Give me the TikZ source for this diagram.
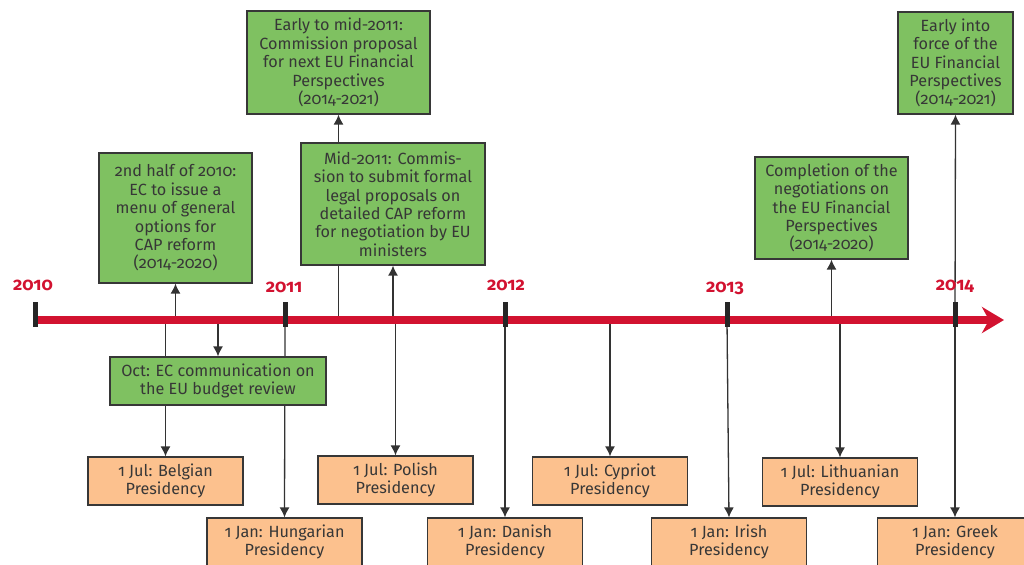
\documentclass[tikz,border=0pt]{standalone}
\usepackage{fontspec}
\setmainfont{Fira Sans}[Numbers=OldStyle]
\usetikzlibrary{arrows.meta, backgrounds}

\definecolor{boxgreen}{RGB}{127,193,97}
\definecolor{boxorange}{RGB}{252,193,142}
\definecolor{linered}{RGB}{210,18,48}
\definecolor{textgray}{RGB}{55,55,55}

\begin{document}
\begin{tikzpicture}[x=0.5pt, y=-0.5pt,
  every node/.style={align=center, text=textgray, inner sep=0pt,
    font=\fontsize{8.1}{9.2}\selectfont},
  event/.style={draw=textgray, fill=boxgreen, line width=0.6pt},
  pres/.style={draw=textgray, fill=boxorange, line width=0.6pt,
    minimum width=77.5pt, minimum height=24pt},
  year/.style={text=linered, font=\fontsize{9}{10}\selectfont\bfseries},
  tick/.style={line width=2.5pt, black!85},
  conn/.style={line width=0.65pt, black!80},
  arr/.style={conn, -{Latex[length=5pt,width=5pt]}}]
\useasboundingbox (0,0) rectangle (1024,564);

% time line points
\coordinate (tl) at (0,320);
\coordinate (t10) at (35,320);
\coordinate (t11) at (285,320);
\coordinate (t12) at (505,320);
\coordinate (t13) at (727,320);
\coordinate (t14) at (955,320);
\coordinate (tend) at (1004,320);

\node[year, anchor=base] (y10) at (33,290) {2010};
\node[year, anchor=base] (y11) at (284,292) {2011};
\node[year, anchor=base] (y12) at (506,290) {2012};
\node[year, anchor=base] (y13) at (725,292) {2013};
\node[year, anchor=base] (y14) at (955,290) {2014};

% green boxes
\node[event, minimum width=76.5pt, minimum height=65pt] (half) at (175.5,218)
  {2nd half of 2010:\\ EC to issue a\\ menu of general\\ options for\\ CAP reform\\ (2014-2020)};
\node[event, minimum width=91.5pt, minimum height=51.5pt] (early) at (338.5,62.5)
  {Early to mid-2011:\\ Commission proposal\\ for next EU Financial\\ Perspectives\\ (2014-2021)};
\node[event, minimum width=92pt, minimum height=61pt] (mid) at (393,204)
  {Mid-2011: Commis-\\ sion to submit formal\\ legal proposals on\\ detailed CAP reform\\ for negotiation by EU\\ ministers};
\node[event, minimum width=76.5pt, minimum height=51pt] (compl) at (831.5,208)
  {Completion of the\\ negotiations on\\ the EU Financial\\ Perspectives\\ (2014-2020)};
\node[event, minimum width=57.5pt, minimum height=51pt] (force) at (955.5,63)
  {Early into\\ force of the\\ EU Financial\\ Perspectives\\ (2014-2021)};
\node[event, minimum width=108pt, minimum height=24pt] (oct) at (218,381)
  {Oct: EC communication on\\ the EU budget review};

% presidencies
\node[pres] (bel) at (165.5,481) {1 Jul: Belgian\\ Presidency};
\node[pres] (hun) at (284.5,542) {1 Jan: Hungarian\\ Presidency};
\node[pres] (pol) at (395.5,480) {1 Jul: Polish\\ Presidency};
\node[pres] (dan) at (505,542) {1 Jan: Danish\\ Presidency};
\node[pres] (cyp) at (610,481) {1 Jul: Cypriot\\ Presidency};
\node[pres] (iri) at (729,542) {1 Jan: Irish\\ Presidency};
\node[pres] (lit) at (840,482) {1 Jul: Lithuanian\\ Presidency};
\node[pres] (gre) at (955,542) {1 Jan: Greek\\ Presidency};

\begin{pgfonlayer}{background}
\draw[arr] (half.south |- tl) -- (half.south);
\draw[arr] (bel.north |- tl) -- (bel.north);
\draw[arr] (oct.north |- tl) -- (oct.north);
\draw[arr] (t11) -- (hun.north);
\draw[arr] (early.south |- mid.north) -- (early.south);
\draw[conn] (early.south |- tl) -- (early.south |- mid.south);
\draw[arr] (mid.south |- tl) -- (mid.south);
\draw[arr] (pol.north |- tl) -- (pol.north);
\draw[arr] (t12) -- (dan.north);
\draw[arr] (cyp.north |- tl) -- (cyp.north);
\draw[arr] (t13) -- (iri.north);
\draw[arr] (compl.south |- tl) -- (compl.south);
\draw[arr] (lit.north |- tl) -- (lit.north);
\draw[arr] (t14) -- (force.south);
\draw[arr] (t14) -- (gre.north);
% red time line
\draw[line width=4pt, linered, -{Stealth[length=11pt,width=13pt,inset=3.5pt]}]
  (t10) -- (tend);
\end{pgfonlayer}

% year ticks
\foreach \t in {t10,t11,t12,t13,t14}
  \draw[tick] (\t) ++(0,-18) -- ++(0,25);
\end{tikzpicture}
\end{document}
